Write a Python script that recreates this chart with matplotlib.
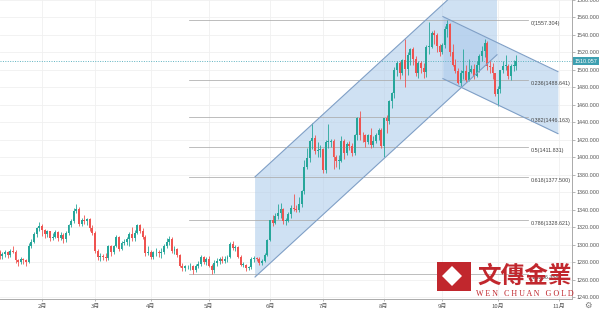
"""
黄金日线 2019：上升通道 + 下降通道 + 斐波那契回撤
"""
import numpy as np
import pandas as pd
import matplotlib
matplotlib.use("Agg")
import matplotlib.pyplot as plt
import matplotlib.transforms as mtransforms
from matplotlib.patches import Rectangle, Polygon

plt.rcParams["font.family"] = ["Liberation Sans", "Noto Sans CJK SC", "DejaVu Sans"]

# ===== 数据：2019-01-09 起的日K（按交易日排列）=====
# 1月
opens = [1285, 1292, 1287, 1289, 1291, 1288, 1293, 1292, 1282, 1280, 1283, 1282, 1280, 1298, 1303, 1312, 1319,
         # 2月
         1321, 1317, 1312, 1315, 1307, 1309, 1314, 1308, 1311, 1306, 1313, 1322, 1327, 1339, 1341, 1324, 1328, 1327, 1329, 1319,
         # 3月
         1313, 1293, 1286, 1287, 1286, 1285, 1298, 1291, 1298, 1309, 1295, 1302, 1303, 1306, 1312, 1308, 1313, 1322, 1316, 1309, 1290,
         # 4月
         1292, 1286, 1291, 1291, 1290, 1291, 1298, 1303, 1306, 1293, 1295, 1288, 1276, 1273, 1275, 1275, 1276, 1271, 1276, 1278, 1286, 1280,
         # 5月
         1284, 1276, 1271, 1279, 1281, 1284, 1281, 1284, 1286, 1301, 1296, 1297, 1286, 1277, 1277, 1273, 1274, 1283, 1285, 1284, 1279, 1281, 1288,
         # 6月
         1305, 1328, 1325, 1333, 1336, 1341, 1327, 1327, 1335, 1342, 1341, 1340, 1346, 1361, 1389, 1399, 1419, 1422, 1407, 1408,
         # 7月
         1409, 1385, 1418, 1418, 1419, 1400, 1396, 1396, 1419, 1405, 1415, 1413, 1405, 1426, 1445, 1426, 1425, 1418, 1425, 1414, 1419, 1426, 1431,
         # 8月
         1413, 1445, 1441, 1464, 1474, 1500, 1508, 1496, 1511, 1501, 1517, 1524, 1513, 1496, 1508, 1502, 1498, 1526, 1526, 1542, 1540, 1527,
         # 9月
         1520, 1529, 1547, 1552, 1520, 1506, 1499, 1485, 1497, 1499, 1488, 1498, 1501, 1493, 1506, 1516, 1522, 1531, 1504, 1503, 1497,
         # 10月
         1472, 1478, 1500, 1505, 1505, 1493, 1505, 1505]
highs = [1295, 1294, 1291, 1294, 1293, 1295, 1298, 1294, 1284, 1286, 1285, 1284, 1302, 1306, 1314, 1320, 1326,
         1323, 1318, 1317, 1316, 1313, 1317, 1315, 1314, 1313, 1315, 1324, 1329, 1342, 1347, 1343, 1331, 1334, 1331, 1330, 1322,
         1315, 1295, 1290, 1289, 1290, 1300, 1300, 1300, 1311, 1310, 1304, 1306, 1309, 1314, 1320, 1317, 1324, 1323, 1319, 1311, 1298,
         1294, 1293, 1296, 1294, 1296, 1301, 1307, 1310, 1309, 1298, 1296, 1289, 1279, 1277, 1277, 1279, 1277, 1278, 1281, 1288, 1287, 1286,
         1287, 1278, 1282, 1285, 1286, 1287, 1287, 1288, 1303, 1304, 1300, 1298, 1288, 1280, 1278, 1276, 1286, 1287, 1286, 1286, 1284, 1290, 1306,
         1328, 1334, 1336, 1347, 1348, 1342, 1331, 1337, 1345, 1358, 1345, 1354, 1362, 1397, 1411, 1420, 1439, 1426, 1417, 1414,
         1411, 1420, 1438, 1421, 1421, 1402, 1402, 1424, 1421, 1417, 1419, 1416, 1427, 1446, 1453, 1429, 1427, 1427, 1433, 1424, 1428, 1433, 1433,
         1445, 1448, 1466, 1475, 1503, 1510, 1510, 1513, 1535, 1520, 1525, 1526, 1516, 1510, 1510, 1508, 1528, 1555, 1544, 1546, 1542, 1530,
         1531, 1550, 1557, 1554, 1530, 1512, 1502, 1500, 1524, 1506, 1512, 1506, 1507, 1510, 1518, 1527, 1535, 1533, 1511, 1508, 1497,
         1482, 1500, 1510, 1517, 1507, 1507, 1511, 1517]
lows = [1282, 1284, 1284, 1286, 1285, 1286, 1290, 1279, 1276, 1278, 1278, 1276, 1279, 1296, 1302, 1309, 1315,
        1310, 1308, 1309, 1304, 1305, 1307, 1304, 1305, 1302, 1303, 1311, 1320, 1325, 1336, 1321, 1321, 1324, 1322, 1316, 1311,
        1290, 1282, 1281, 1282, 1281, 1282, 1287, 1289, 1297, 1293, 1294, 1299, 1300, 1298, 1304, 1304, 1312, 1313, 1306, 1287, 1288,
        1284, 1284, 1287, 1286, 1285, 1289, 1296, 1300, 1290, 1289, 1286, 1274, 1270, 1270, 1272, 1271, 1266, 1269, 1273, 1275, 1278, 1277,
        1274, 1266, 1267, 1275, 1278, 1279, 1279, 1280, 1285, 1294, 1293, 1285, 1275, 1274, 1270, 1271, 1272, 1280, 1281, 1277, 1277, 1280, 1287,
        1304, 1321, 1323, 1329, 1331, 1323, 1322, 1326, 1330, 1338, 1337, 1337, 1343, 1358, 1386, 1395, 1409, 1404, 1400, 1400,
        1382, 1382, 1411, 1412, 1386, 1389, 1386, 1394, 1398, 1403, 1408, 1401, 1403, 1420, 1420, 1417, 1412, 1415, 1411, 1412, 1416, 1420, 1411,
        1400, 1428, 1438, 1456, 1468, 1493, 1490, 1494, 1480, 1494, 1506, 1506, 1493, 1491, 1497, 1491, 1492, 1518, 1525, 1530, 1521, 1516,
        1518, 1525, 1538, 1516, 1504, 1496, 1484, 1482, 1490, 1486, 1487, 1496, 1490, 1492, 1498, 1510, 1515, 1500, 1496, 1489, 1470,
        1459, 1474, 1496, 1500, 1490, 1488, 1499, 1500]
closes = [1292, 1287, 1289, 1291, 1288, 1293, 1292, 1282, 1280, 1283, 1282, 1280, 1298, 1303, 1312, 1319, 1321,
          1317, 1312, 1315, 1307, 1309, 1314, 1308, 1311, 1306, 1313, 1322, 1327, 1339, 1341, 1324, 1328, 1327, 1329, 1319, 1313,
          1293, 1286, 1287, 1286, 1285, 1298, 1291, 1298, 1309, 1295, 1302, 1303, 1306, 1312, 1308, 1313, 1322, 1316, 1309, 1290, 1292,
          1286, 1291, 1291, 1290, 1291, 1298, 1303, 1306, 1293, 1295, 1288, 1276, 1273, 1275, 1275, 1276, 1271, 1276, 1278, 1286, 1280, 1284,
          1276, 1271, 1279, 1281, 1284, 1281, 1284, 1286, 1301, 1296, 1297, 1286, 1277, 1277, 1273, 1274, 1283, 1285, 1284, 1279, 1281, 1288, 1305,
          1328, 1325, 1333, 1336, 1341, 1327, 1327, 1335, 1342, 1341, 1340, 1346, 1361, 1389, 1399, 1419, 1422, 1407, 1408, 1409,
          1385, 1418, 1418, 1419, 1400, 1396, 1396, 1419, 1405, 1415, 1413, 1405, 1426, 1445, 1426, 1425, 1418, 1425, 1414, 1419, 1426, 1431, 1413,
          1445, 1441, 1464, 1474, 1500, 1508, 1496, 1511, 1501, 1517, 1524, 1513, 1496, 1508, 1502, 1498, 1526, 1526, 1542, 1540, 1527, 1520,
          1529, 1547, 1552, 1520, 1506, 1499, 1485, 1497, 1499, 1488, 1498, 1501, 1493, 1506, 1516, 1522, 1531, 1504, 1503, 1497, 1472,
          1478, 1500, 1505, 1505, 1493, 1505, 1505, 1510]

last_price = 1510.057

# 斐波那契回撤（0 = 9月高点，1 = 5月低点）
fib_ratios = ["0", "0.236", "0.382", "0.5", "0.618", "0.786", "1"]
fib_prices = [1557.304, 1488.641, 1446.163, 1411.831, 1377.500, 1328.621, 1266.358]
fib_span = [72.5, 200.4]  # 起止 K 线序号

# 通道（K 线序号, 价格）
ch1_x = [97.4, 188.7]
ch1_upper = [1377.6, 1632.0]
ch1_lower = [1262.9, 1517.3]
ch2_x = [168.3, 211.7]
ch2_upper = [1561.0, 1498.0]
ch2_lower = [1490.0, 1427.0]

# 交易日（含到 11 月，用于月份刻度）
dates = pd.bdate_range("2019-01-09", "2019-11-29")

GREEN = "#26a69a"
RED = "#ef5350"
TEAL = "#3d9fb0"
CH_FILL = "#a9c9ea"
CH_LINE = "#7f9fc6"

fig = plt.figure(figsize=(6, 3.1), dpi=100)
ax = fig.add_axes([0, 11 / 310, 572 / 600, 299 / 310])

px_per_bar = 2.65
x_left = 17 - 42 / px_per_bar
ax.set_xlim(x_left, x_left + 572 / px_per_bar)
ax.set_ylim(1237.7, 1579.4)

# 月份刻度：每月第一个交易日
month_idx, month_lbl = [], []
for i in range(1, len(dates)):
    if dates[i].month != dates[i - 1].month:
        month_idx.append(i)
        month_lbl.append(f"{dates[i].month}月")
ax.set_xticks(month_idx)
ax.set_xticklabels(month_lbl, fontsize=4.3, color="#555555", family=["Noto Sans CJK SC"])

ax.yaxis.tick_right()
ax.set_yticks(np.arange(1240, 1581, 20))
ax.set_yticklabels([f"{v:.3f}" for v in np.arange(1240, 1581, 20)], fontsize=3.9, color="#555555")
ax.tick_params(axis="y", length=2, width=0.5, color="#999999", pad=1.5)
ax.tick_params(axis="x", length=1.5, width=0.5, color="#999999", pad=2.2)

ax.grid(True, color="#f0f0f0", lw=0.6)
ax.set_axisbelow(True)
for s in ["top", "left"]:
    ax.spines[s].set_visible(False)
for s in ["right", "bottom"]:
    ax.spines[s].set_color("#aaaaaa")
    ax.spines[s].set_linewidth(0.7)

# ---- 通道 ----
ax.fill_between(ch1_x, ch1_lower, ch1_upper, color=CH_FILL, alpha=0.55, lw=0, zorder=1)
ax.plot(ch1_x, ch1_upper, color=CH_LINE, lw=0.8, zorder=4)
ax.plot(ch1_x, ch1_lower, color=CH_LINE, lw=0.8, zorder=4)
ax.fill_between(ch2_x, ch2_lower, ch2_upper, color=CH_FILL, alpha=0.55, lw=0, zorder=1)
ax.plot(ch2_x, ch2_upper, color=CH_LINE, lw=0.8, zorder=4)
ax.plot(ch2_x, ch2_lower, color=CH_LINE, lw=0.8, zorder=4)

# ---- 斐波那契 ----
for r, p in zip(fib_ratios, fib_prices):
    ax.plot(fib_span, [p, p], color="#ababab", lw=0.55, zorder=2)
    ax.annotate(f"{r}({p:.3f})", (fib_span[1] + 1.2, p), xytext=(0, -4), textcoords="offset pixels",
                fontsize=3.9, color="#444444", va="center", ha="left", zorder=2)

# ---- K 线 ----
o = np.array(opens, dtype=float)
h = np.array(highs, dtype=float)
l = np.array(lows, dtype=float)
c = np.array(closes, dtype=float)
idx = np.arange(len(c))
colors = np.where(c >= o, GREEN, RED)
ax.vlines(idx, l, h, colors=colors, lw=0.6, zorder=3)
body = np.maximum(np.abs(c - o), 0.9)
ax.bar(idx, body, bottom=np.minimum(o, c), width=0.72, color=colors, lw=0, zorder=3)

# ---- 当前价 ----
ax.axhline(last_price, color="#5fb3c1", lw=0.7, ls=(0, (1, 1.5)), zorder=2)
trans = mtransforms.blended_transform_factory(ax.transAxes, ax.transData)
ax.text(1.004, last_price, f"{last_price:.3f}", transform=trans, fontsize=3.9, color="white",
        va="center", ha="left", bbox=dict(boxstyle="square,pad=0.3", fc=TEAL, ec="none"), clip_on=False)

# ---- 水印 logo ----
def fx(px):
    return px / 600

def fy(py):
    return 1 - py / 310

LOGO_RED = "#c1272d"
fig.patches.append(Rectangle((fx(437), fy(291)), 34 / 600, 29 / 310, transform=fig.transFigure,
                             fc=LOGO_RED, ec="none", zorder=10))
fig.patches.append(Polygon([(fx(442), fy(276)), (fx(452), fy(266)), (fx(462), fy(276)), (fx(452), fy(286))],
                           closed=True, transform=fig.transFigure, fc="white", ec="none", zorder=11))
fig.text(fx(525), fy(276), "文傳金業", fontsize=17, color=LOGO_RED, weight="bold",
         family=["Noto Sans CJK TC"], ha="center", va="center", zorder=12)
fig.text(fx(525), fy(294), "W E N   C H U A N   G O L D", fontsize=5.8, color=LOGO_RED,
         family=["Liberation Serif"], ha="center", va="center", zorder=12)

fig.text(fx(588), fy(305), "⚙", fontsize=6, color="#777777", family=["DejaVu Sans"], ha="center", va="center")

fig.savefig("out.png", dpi=100)
